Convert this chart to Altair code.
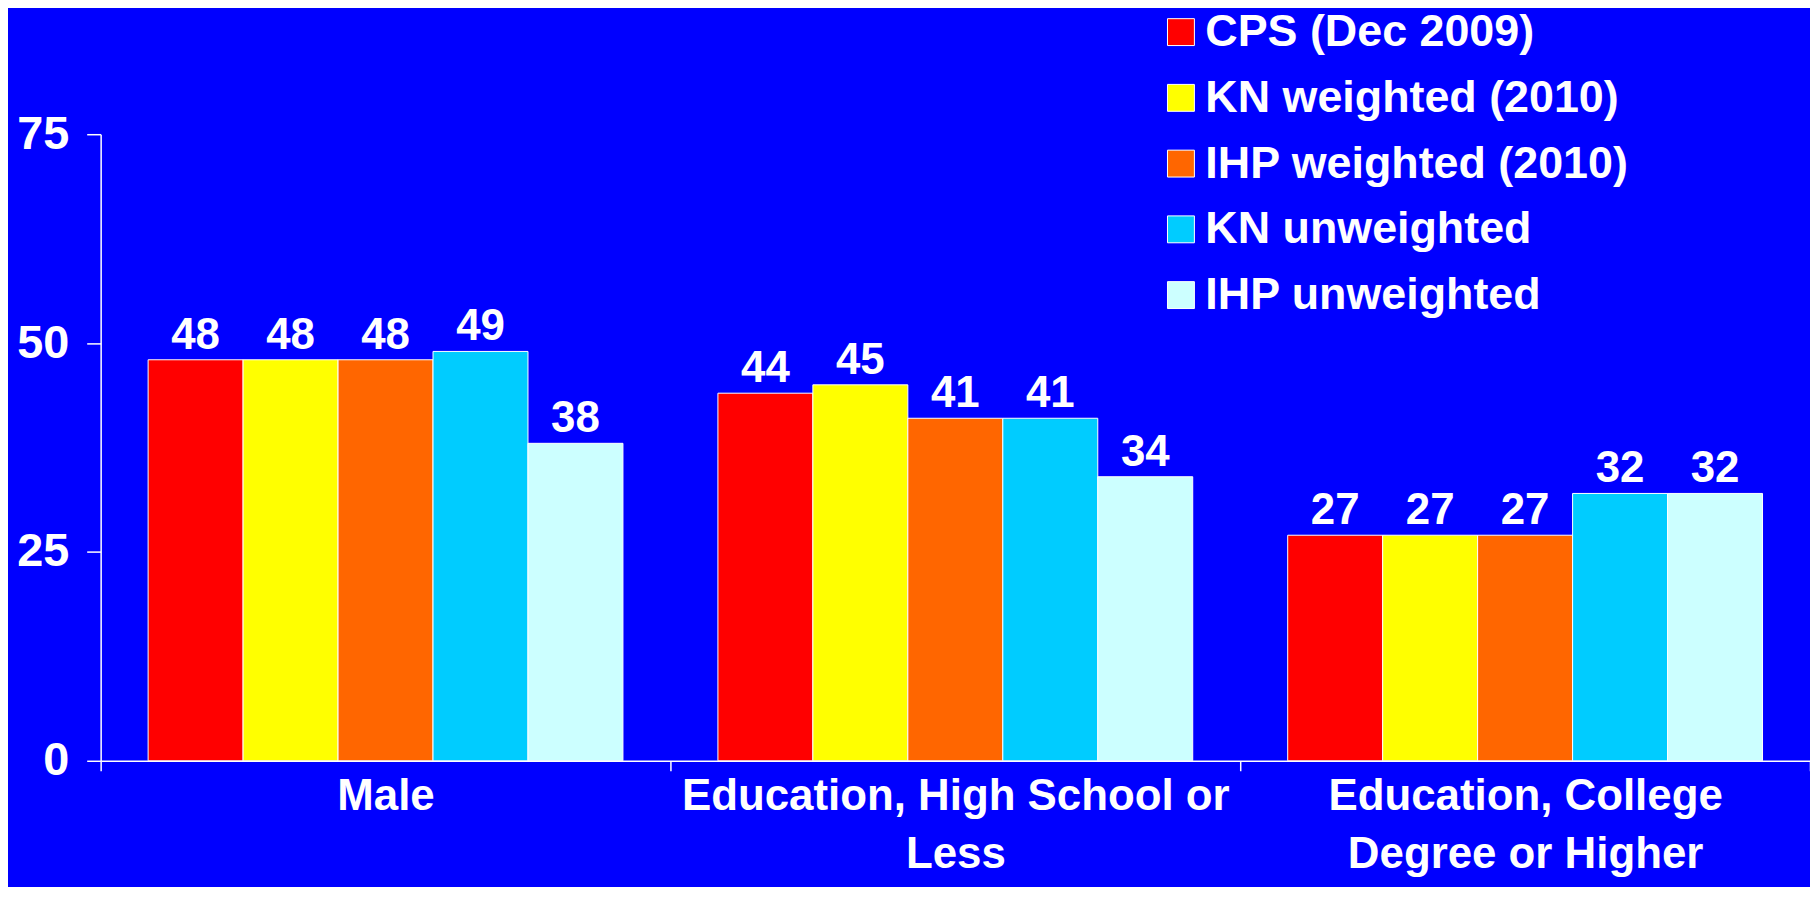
import altair as alt
import pandas as pd

categories = ["Male", "Education, High School or\nLess", "Education, College\nDegree or Higher"]
series = ["CPS (Dec 2009)", "KN weighted (2010)", "IHP weighted (2010)", "KN unweighted", "IHP unweighted"]
colors = ["#FF0000", "#FFFF00", "#FF6600", "#00CCFF", "#CCFFFF"]
values = {
    "CPS (Dec 2009)": [48, 44, 27],
    "KN weighted (2010)": [48, 45, 27],
    "IHP weighted (2010)": [48, 41, 27],
    "KN unweighted": [49, 41, 32],
    "IHP unweighted": [38, 34, 32],
}
y_ticks = [0, 25, 50, 75]

rows = []
for s in series:
    for c, v in zip(categories, values[s]):
        rows.append({"cat": c, "series": s, "value": v})
df = pd.DataFrame(rows)

FONT = "Liberation Sans"

base = alt.Chart(df).encode(
    x=alt.X(
        "cat:N",
        sort=categories,
        title=None,
        scale=alt.Scale(paddingInner=0, paddingOuter=0),
        axis=alt.Axis(
            labelAngle=0,
            tickBand="extent",
            tickSize=10,
            labelPadding=4,
            labelFontSize=44,
            labelLineHeight=58,
            labelLimit=800,
            labelExpr="split(datum.label, '\\n')",
        ),
    ),
    xOffset=alt.XOffset("series:N", sort=series, scale=alt.Scale(paddingInner=0, paddingOuter=0.5)),
    y=alt.Y(
        "value:Q",
        title=None,
        scale=alt.Scale(domain=[0, 75], nice=False),
        axis=alt.Axis(values=y_ticks, tickSize=14, labelPadding=18, labelFontSize=47),
    ),
)

bars = base.mark_bar(stroke="white", strokeWidth=1).encode(
    color=alt.Color(
        "series:N",
        sort=series,
        scale=alt.Scale(domain=series, range=colors),
        legend=alt.Legend(
            title=None,
            orient="none",
            legendX=1062,
            legendY=-125,
            padding=0,
            symbolType="square",
            symbolSize=729,
            symbolStrokeColor="white",
            symbolStrokeWidth=1,
            symbolOpacity=1,
            labelFont=FONT,
            labelFontWeight="bold",
            labelFontSize=45,
            labelColor="white",
            labelOffset=2,
            rowPadding=20,
            labelLimit=800,
        ),
    )
)

text = base.mark_text(
    baseline="alphabetic", dy=-11, fontSize=44, font=FONT, fontWeight="bold", color="white"
).encode(text="value:Q")

chart = (
    alt.layer(bars, text)
    .properties(
        width=1716,
        height=629,
        autosize="none",
        padding={"left": 93, "top": 125, "right": 0, "bottom": 125},
        background="#0000FF",
    )
    .configure_view(stroke=None)
    .configure_axis(
        domainColor="white",
        tickColor="white",
        labelColor="white",
        labelFont=FONT,
        labelFontWeight="bold",
        grid=False,
        domainWidth=1.5,
        tickWidth=1.5,
    )
)

chart.save("out.html", embed_options={"renderer": "svg", "actions": False})
